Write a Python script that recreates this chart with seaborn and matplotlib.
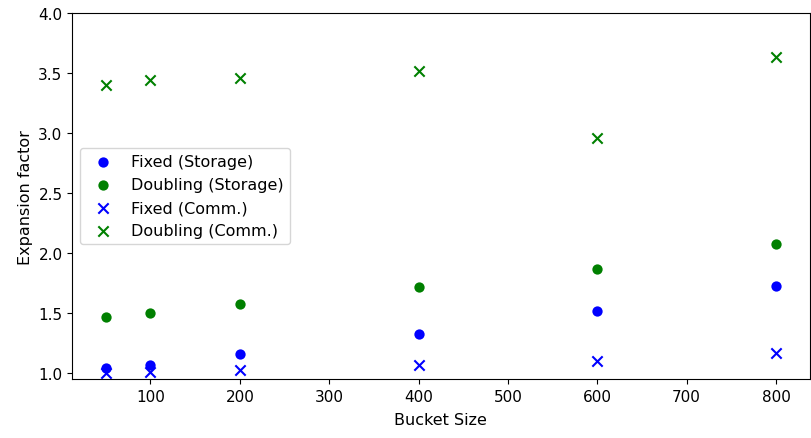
import numpy as np
import pandas as pd
import matplotlib
matplotlib.use("Agg")
import matplotlib.pyplot as plt
import seaborn as sns

bucket_sizes = [50, 100, 200, 400, 600, 800]
fixed_storage = [1.04, 1.07, 1.16, 1.33, 1.52, 1.73]
doubling_storage = [1.465, 1.505, 1.575, 1.72, 1.87, 2.08]
fixed_comm = [1.0, 1.01, 1.03, 1.07, 1.10, 1.17]
doubling_comm = [3.40, 3.44, 3.46, 3.52, 2.96, 3.63]

series = [
    ("Fixed (Storage)", fixed_storage, "blue", "o"),
    ("Doubling (Storage)", doubling_storage, "green", "o"),
    ("Fixed (Comm.)", fixed_comm, "blue", "x"),
    ("Doubling (Comm.)", doubling_comm, "green", "x"),
]

plt.rcParams["font.size"] = 11.5

fig, ax = plt.subplots(figsize=(8.12, 4.39), dpi=100)
for label, vals, color, marker in series:
    df = pd.DataFrame({"x": bucket_sizes, "y": vals})
    sns.scatterplot(data=df, x="x", y="y", ax=ax, color=color, marker=marker,
                    s=55, label=label, edgecolor=color if marker == "o" else None,
                    linewidth=1.5 if marker == "x" else 0)

ax.set_ylim(0.95, 4.0)
ax.tick_params(labelsize=11)
ax.set_xlabel("Bucket Size", labelpad=6)
ax.set_ylabel("Expansion factor")
ax.legend(loc="center left")
fig.subplots_adjust(left=0.089, right=0.997, top=0.968, bottom=0.134)
fig.savefig("out.png", dpi=100)
